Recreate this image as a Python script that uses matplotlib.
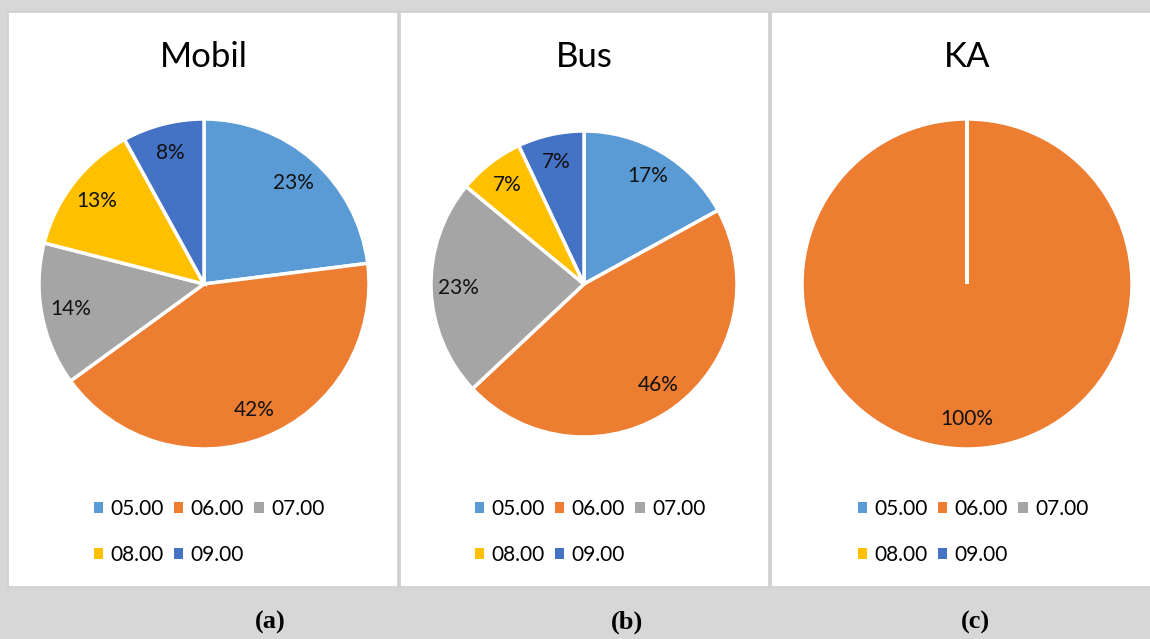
import matplotlib.pyplot as plt
from matplotlib.patches import Rectangle, Patch

# Data
jam = ["05.00", "06.00", "07.00", "08.00", "09.00"]
mobil = [23, 42, 14, 13, 8]
bus = [17, 46, 23, 7, 7]
ka = [0, 100, 0, 0, 0]
judul = ["Mobil", "Bus", "KA"]
caption = ["(a)", "(b)", "(c)"]
warna = ["#5B9BD5", "#ED7D31", "#A5A5A5", "#FFC000", "#4472C4"]

plt.rcParams['font.family'] = ['Lato', 'DejaVu Sans']

W, H = 1150, 639
fig = plt.figure(figsize=(W / 100, H / 100), dpi=100, facecolor="#d7d7d7")


def px(x, y, w, h):
    # kotak piksel (asal kiri atas) -> fraksi figure
    return [x / W, 1 - (y + h) / H, w / W, h / H]


# panel putih
panels = [(8, 12, 390, 575), (400, 12, 369, 575), (771, 12, 385, 575)]
for (x, y, w, h) in panels:
    fig.patches.append(Rectangle((x / W, 1 - (y + h) / H), w / W, h / H,
                                 transform=fig.transFigure, facecolor="white",
                                 edgecolor="#cfcfcf", linewidth=1.2, zorder=-5))

pie_box = [(204, 284, 165), (584, 284, 153), (967, 284, 165)]
legend_cx = [209, 590, 973]
caption_x = [270, 627, 975]
datasets = [mobil, bus, ka]


def pct(v):
    return f"{v:.0f}%" if v > 0.5 else ""


for i, data in enumerate(datasets):
    cx, cy, r = pie_box[i]
    ax = fig.add_axes(px(cx - r, cy - r, 2 * r, 2 * r), zorder=2)
    ax.pie(data, colors=warna, startangle=90, counterclock=False,
           autopct=pct, pctdistance=0.82,
           wedgeprops=dict(edgecolor="white", linewidth=2.5),
           textprops=dict(fontsize=15, color="#111111"))
    ax.set_xlim(-1.0, 1.0)
    ax.set_ylim(-1.0, 1.0)
    ax.set_aspect("equal")
    ax.axis("off")

    fig.text(cx / W, 1 - 57 / H, judul[i], ha="center", va="center",
             fontsize=25, color="black")

    handles = [Patch(facecolor=c, edgecolor="none") for c in warna]
    order = [0, 3, 1, 4, 2]
    fig.legend([handles[k] for k in order], [jam[k] for k in order],
               loc="center", bbox_to_anchor=(legend_cx[i] / W, 1 - 532 / H),
               ncol=3, frameon=False, fontsize=15,
               handlelength=0.45, handleheight=0.45, handletextpad=0.35,
               columnspacing=0.5, labelspacing=1.25)

    fig.text(caption_x[i] / W, 1 - 622 / H, caption[i], ha="center",
             va="center", fontsize=19, fontweight="bold",
             family=["Liberation Serif", "DejaVu Serif"])

fig.savefig("out.png", dpi=100, facecolor=fig.get_facecolor())
